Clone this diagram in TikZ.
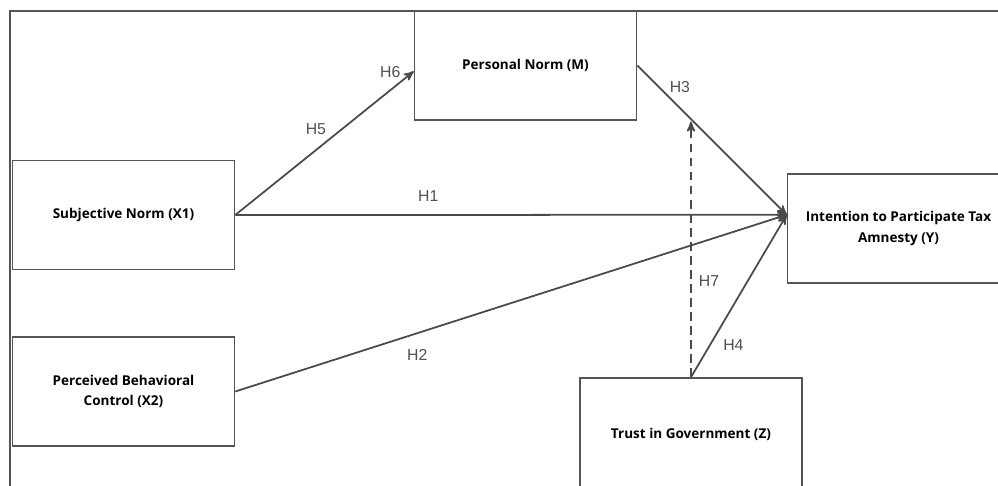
\documentclass[tikz,border=0pt]{standalone}
\usepackage{fontspec}
\newfontfamily\boxfont{Open Sans}
\newfontfamily\hfont{Liberation Sans}
\usepackage{tikz}
\usetikzlibrary{arrows,positioning}
\definecolor{boxgray}{HTML}{555555}
\definecolor{linegray}{HTML}{4A4A4A}
\definecolor{labgray}{HTML}{505050}
\tikzset{
	var/.style={draw=boxgray,line width=0.9pt,minimum width=4.44cm,minimum height=2.18cm,align=center,font=\boxfont\bfseries\fontsize{7.7}{11.4}\selectfont},
	hyp/.style={text=labgray,font=\hfont\fontsize{9}{10}\selectfont,inner sep=1pt}
}
\begin{document}
\begin{tikzpicture}[x=0.02cm,y=-0.02cm]
	\useasboundingbox (0,0) rectangle (998,486);
	\draw[boxgray,line width=0.9pt] (10,486) -- (10,11) -- (998,11);
	
	\node[var] (PN) at (525.5,65.5) {Personal Norm (M)};
	\node[var] (SN) at (123.5,215) {Subjective Norm (X1)};
	\node[var] (PBC) at (123.5,391.5) {Perceived Behavioral\\Control (X2)};
	\node[var] (ITP) at (898.5,228.5) {Intention to Participate Tax\\Amnesty (Y)};
	\node[var,minimum height=2.24cm] (TG) at (691,434) {Trust in Government (Z)};
	
	\path [->,>=stealth',linegray,line width=1pt]
		(SN.east) edge node[pos=0.35,above=6pt,hyp] {H1} (ITP.173)
		(PBC.east) edge node[pos=0.33,below=8pt,hyp] {H2} (ITP.173)
		(PN.east) edge node[pos=0.2,above right=0pt,hyp] {H3} coordinate[pos=0.376] (h3) (ITP.173)
		(TG.north) edge node[pos=0.2,right=6pt,hyp] {H4} (ITP.173)
		(SN.east) edge node[pos=0.53,above left=1pt,hyp] {H5} node[pos=0.94,above left=0pt,hyp] {H6} (PN.183);
	
	\draw [->,>=stealth',dash pattern=on 5pt off 3pt,linegray,line width=1pt] (TG.north) -- node[pos=0.376,right=3pt,hyp] {H7} (TG.north |- h3);
\end{tikzpicture}
\end{document}
